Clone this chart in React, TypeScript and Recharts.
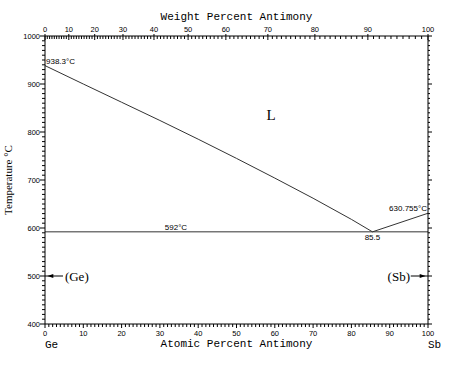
import {
  ComposedChart,
  Line,
  XAxis,
  YAxis,
  ReferenceDot,
  ReferenceLine,
} from "recharts";

// axis labels
const majorAtomic = [0, 10, 20, 30, 40, 50, 60, 70, 80, 90, 100];
const majorWeight = [0, 10, 20, 30, 40, 50, 60, 70, 80, 90, 100];
const majorTemps = [400, 500, 600, 700, 800, 900, 1000];

// liquidus, Ge side
const geLiquidus = [
  { at: 0, t: 938.3 },
  { at: 10, t: 900 },
  { at: 20, t: 862 },
  { at: 30, t: 824 },
  { at: 40, t: 785 },
  { at: 50, t: 745 },
  { at: 60, t: 704 },
  { at: 70, t: 662 },
  { at: 80, t: 618 },
  { at: 85.5, t: 592 },
];
// liquidus, Sb side
const sbLiquidus = [
  { at: 85.5, t: 592 },
  { at: 100, t: 630.755 },
];
// eutectic horizontal
const eutectic = [
  { at: 0, t: 592 },
  { at: 100, t: 592 },
];

// atomic masses for the weight-percent scale
const GE = 72.63;
const SB = 121.76;
const wtToAt = (w: number) => (100 * (w / SB)) / (w / SB + (100 - w) / GE);
const atToWt = (a: number) => (100 * (a * SB)) / (a * SB + (100 - a) * GE);

const atomicTicks: number[] = [];
for (let i = 0; i <= 100; i++) atomicTicks.push(i);
const weightTicks: number[] = [];
for (let i = 0; i <= 100; i++) weightTicks.push(wtToAt(i));
const tempTicks: number[] = [];
for (let t = 400; t <= 1000; t += 10) tempTicks.push(t);

const SANS = "'Liberation Sans', Arial, sans-serif";
const MONO = "'Liberation Mono', 'DejaVu Sans Mono', monospace";
const SERIF = "'Liberation Serif', 'Times New Roman', serif";
const LINE = "#333";

function BottomTick(props: any) {
  const { x, y, payload } = props;
  const v = Math.round(payload.value);
  const major = majorAtomic.includes(v);
  return (
    <g>
      <line x1={x} x2={x} y1={y} y2={y + (major ? 4 : 3)} stroke="#000" />
      {major && (
        <text x={x} y={y + 9} textAnchor="middle" dominantBaseline="central" fontSize={7.5} fontFamily={SANS} fill="#000">
          {v}
        </text>
      )}
    </g>
  );
}

function TopTick(props: any) {
  const { x, y, payload } = props;
  const w = Math.round(atToWt(payload.value));
  const major = majorWeight.includes(w);
  return (
    <g>
      <line x1={x} x2={x} y1={y + (major ? -2 : 0)} y2={y + (major ? 4 : 3)} stroke="#000" />
      {major && (
        <text x={x} y={y - 7} textAnchor="middle" dominantBaseline="central" fontSize={7.5} fontFamily={SANS} fill="#000">
          {w}
        </text>
      )}
    </g>
  );
}

function LeftTick(props: any) {
  const { x, y, payload } = props;
  const v = Math.round(payload.value);
  const major = majorTemps.includes(v);
  return (
    <g>
      <line x1={x - (major ? 5 : 3)} x2={x} y1={y} y2={y} stroke="#000" />
      {major && (
        <text x={x - 5} y={y} textAnchor="end" dominantBaseline="central" fontSize={7.5} fontFamily={SANS} fill="#000">
          {v}
        </text>
      )}
    </g>
  );
}

function RightTick(props: any) {
  const { x, y, payload } = props;
  const major = majorTemps.includes(Math.round(payload.value));
  return <line x1={x} x2={x + (major ? 4 : 2)} y1={y} y2={y} stroke="#000" />;
}

function note(text: string, anchor: "start" | "middle" | "end", dx: number, dy: number, size = 8, family = SANS) {
  return (p: any) => (
    <text x={p.cx + dx} y={p.cy + dy} textAnchor={anchor} dominantBaseline="central" fontSize={size} fontFamily={family} fill="#000">
      {text}
    </text>
  );
}

function arrowHead(dir: 1 | -1) {
  // tip at the point, body pointing away from the axis
  return (p: any) => (
    <polygon
      points={`${p.cx},${p.cy} ${p.cx + dir * 6},${p.cy - 2} ${p.cx + dir * 6},${p.cy + 2}`}
      fill="#000"
    />
  );
}

export default function App() {
  return (
    <div style={{ position: "absolute", left: 0, top: 0, width: 474, height: 372, background: "#fff" }}>
      <ComposedChart width={474} height={372} margin={{ top: 0, right: 0, bottom: 0, left: 0 }}>
        <XAxis
          xAxisId="at"
          dataKey="at"
          type="number"
          domain={[0, 100]}
          allowDataOverflow
          ticks={atomicTicks}
          interval={0}
          height={48}
          tickSize={0}
          tickMargin={0}
          tickLine={false}
          tick={BottomTick}
          axisLine={{ stroke: "#000" }}
          label={(p: any) => {
            const { x, y, width } = p.viewBox;
            return (
              <g fontFamily={MONO} fontSize={11} fill="#000">
                <text x={x + width / 2} y={y + 20} textAnchor="middle" dominantBaseline="central">
                  Atomic Percent Antimony
                </text>
                <text x={x} y={y + 21} textAnchor="start" dominantBaseline="central">
                  Ge
                </text>
                <text x={x + width} y={y + 21} textAnchor="start" dominantBaseline="central">
                  Sb
                </text>
              </g>
            );
          }}
        />
        <XAxis
          xAxisId="wt"
          dataKey="at"
          orientation="top"
          type="number"
          domain={[0, 100]}
          allowDataOverflow
          ticks={weightTicks}
          interval={0}
          height={36}
          tickSize={0}
          tickMargin={0}
          tickLine={false}
          tick={TopTick}
          axisLine={{ stroke: "#000" }}
          label={(p: any) => {
            const { x, y, width } = p.viewBox;
            return (
              <text x={x + width / 2} y={y + 17} textAnchor="middle" dominantBaseline="central" fontFamily={MONO} fontSize={11} fill="#000">
                Weight Percent Antimony
              </text>
            );
          }}
        />
        <YAxis
          yAxisId="t"
          type="number"
          domain={[400, 1000]}
          allowDataOverflow
          ticks={tempTicks}
          interval={0}
          width={45}
          tickSize={0}
          tickMargin={0}
          tickLine={false}
          tick={LeftTick}
          axisLine={{ stroke: "#000" }}
          label={(p: any) => {
            const { y, height } = p.viewBox;
            const cy = y + height / 2;
            return (
              <text x={8} y={cy} transform={`rotate(-90 8 ${cy})`} textAnchor="middle" dominantBaseline="central" fontFamily={SERIF} fontSize={11} fill="#000">
                Temperature °C
              </text>
            );
          }}
        />
        <YAxis
          yAxisId="r"
          orientation="right"
          type="number"
          domain={[400, 1000]}
          allowDataOverflow
          ticks={tempTicks}
          interval={0}
          width={46}
          tickSize={0}
          tickMargin={0}
          tickLine={false}
          tick={RightTick}
          axisLine={{ stroke: "#000" }}
        />

        <Line xAxisId="at" yAxisId="t" data={geLiquidus} dataKey="t" stroke={LINE} strokeWidth={1} dot={false} isAnimationActive={false} />
        <Line xAxisId="at" yAxisId="t" data={sbLiquidus} dataKey="t" stroke={LINE} strokeWidth={1} dot={false} isAnimationActive={false} />
        <Line xAxisId="at" yAxisId="t" data={eutectic} dataKey="t" stroke={LINE} strokeWidth={1} dot={false} isAnimationActive={false} />
        {/* same eutectic again, unstroked, so the top and right axes have a series */}
        <Line xAxisId="wt" yAxisId="r" data={eutectic} dataKey="t" stroke="none" dot={false} activeDot={false} isAnimationActive={false} />

        <ReferenceLine xAxisId="at" yAxisId="t" segment={[{ x: 0, y: 500 }, { x: 4.7, y: 500 }]} stroke="#000" />
        <ReferenceLine xAxisId="at" yAxisId="t" segment={[{ x: 95.5, y: 500 }, { x: 100, y: 500 }]} stroke="#000" />
        <ReferenceDot xAxisId="at" yAxisId="t" x={0.6} y={500} r={0} shape={arrowHead(1)} />
        <ReferenceDot xAxisId="at" yAxisId="t" x={99.4} y={500} r={0} shape={arrowHead(-1)} />

        <ReferenceDot xAxisId="at" yAxisId="t" x={0} y={938.3} r={0} shape={note("938.3°C", "start", 1, -4)} />
        <ReferenceDot xAxisId="at" yAxisId="t" x={34.2} y={592} r={0} shape={note("592°C", "middle", 0, -4.5)} />
        <ReferenceDot xAxisId="at" yAxisId="t" x={85.5} y={592} r={0} shape={note("85.5", "middle", 0, 5.5)} />
        <ReferenceDot xAxisId="at" yAxisId="t" x={100} y={630.755} r={0} shape={note("630.755°C", "end", -1, -4.5)} />
        <ReferenceDot xAxisId="at" yAxisId="t" x={59} y={835} r={0} shape={note("L", "middle", 0, 0, 15, SERIF)} />
        <ReferenceDot xAxisId="at" yAxisId="t" x={5.2} y={500} r={0} shape={note("(Ge)", "start", 0, 0, 13, SERIF)} />
        <ReferenceDot xAxisId="at" yAxisId="t" x={95.3} y={500} r={0} shape={note("(Sb)", "end", 0, 0, 13, SERIF)} />
      </ComposedChart>
    </div>
  );
}
